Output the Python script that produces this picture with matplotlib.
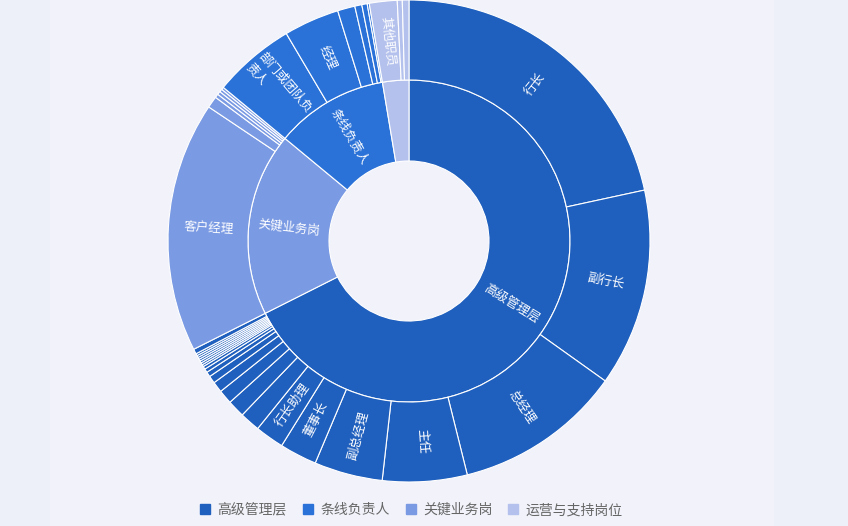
import numpy as np
import matplotlib.pyplot as plt
from matplotlib.lines import Line2D

plt.rcParams['font.family'] = ['Noto Sans CJK SC', 'DejaVu Sans']

groups = ['高级管理层', '条线负责人', '关键业务岗', '运营与支持岗位']
group_colors = ['#1f5fbd', '#2b72d8', '#7a9ae3', '#b4c1ec']
ring_order = [0, 2, 1, 3]   # clockwise from the top

senior_names = ['行长', '副行长', '总经理', '主任', '副总经理', '董事长', '行长助理',
                '', '', '', '', '', '', '', '', '', '', '', '', '', '', '', '']
senior_vals = [77.8, 47.7, 40.5, 20.4, 16.5, 9.0, 7.0,
               4.9, 4.2, 3.4, 2.6, 1.8, 1.2, 0.9, 0.7,
               0.5, 0.5, 0.5, 0.5, 0.5, 0.5, 0.5, 1.2]

line_names = ['部门或团队负\n责人', '经理', '', '', '', '']
line_vals = [19.8, 13.4, 4.2, 1.7, 1.3, 0.5]

key_names = ['客户经理', '', '', '', '', '']
key_vals = [60.5, 2.8, 0.9, 0.8, 0.7, 0.6]

ops_names = ['其他职员', '', '']
ops_vals = [6.7, 1.2, 1.6]

child_names = [senior_names, line_names, key_names, ops_names]
child_vals = [senior_vals, line_vals, key_vals, ops_vals]

fig = plt.figure(figsize=(8.48, 5.26), dpi=100, facecolor='#edf0f8')
ax = fig.add_axes([0, 0, 1, 1])
ax.set_facecolor('#edf0f8')
ax.axvspan(50, 774, color='#f1f2fa', zorder=0, lw=0)

cx, cy = 409, 285
r_hole, r_mid, r_out = 80, 161, 241

inner_vals = [sum(child_vals[i]) for i in ring_order]
inner_cols = [group_colors[i] for i in ring_order]
inner_labels = [groups[i] for i in ring_order]

outer_vals, outer_cols, outer_labels = [], [], []
for i in ring_order:
    outer_vals += child_vals[i]
    outer_labels += child_names[i]
    outer_cols += [group_colors[i]] * len(child_vals[i])

wp = dict(edgecolor='white', linewidth=0.8)
w_in, _ = ax.pie(inner_vals, colors=inner_cols, radius=r_mid, center=(cx, cy),
                 startangle=90, counterclock=False,
                 wedgeprops=dict(width=r_mid - r_hole, **wp))
w_out, _ = ax.pie(outer_vals, colors=outer_cols, radius=r_out, center=(cx, cy),
                  startangle=90, counterclock=False,
                  wedgeprops=dict(width=r_out - r_mid, **wp))


def put_labels(wedges, labels, rad, min_span):
    # labels that would not fit in their slice are left out
    for w, lab in zip(wedges, labels):
        if not lab or (w.theta2 - w.theta1) < min_span:
            continue
        phi = (w.theta1 + w.theta2) / 2
        x = cx + rad * np.cos(np.radians(phi))
        y = cy + rad * np.sin(np.radians(phi))
        rot = (phi + 90) % 180 - 90
        ax.text(x, y, lab, rotation=rot, rotation_mode='anchor',
                ha='center', va='center', color='white', fontsize=9,
                multialignment='left', linespacing=1.5)


put_labels(w_in, inner_labels, (r_hole + r_mid) / 2, 15)
put_labels(w_out, outer_labels, (r_mid + r_out) / 2, 6)

ax.set_xlim(0, 848)
ax.set_ylim(0, 526)
ax.set_aspect('equal')
ax.axis('off')

handles = [Line2D([], [], marker='s', linestyle='', markersize=7.5,
                  color=c) for c in group_colors]
fig.legend(handles, groups, loc='center', bbox_to_anchor=(0.485, 0.03),
           ncol=4, frameon=False, handlelength=0.8, handletextpad=0.5,
           columnspacing=1.1, labelcolor='#666666', prop={'size': 10})

fig.savefig('out.png', dpi=100, facecolor=fig.get_facecolor())
